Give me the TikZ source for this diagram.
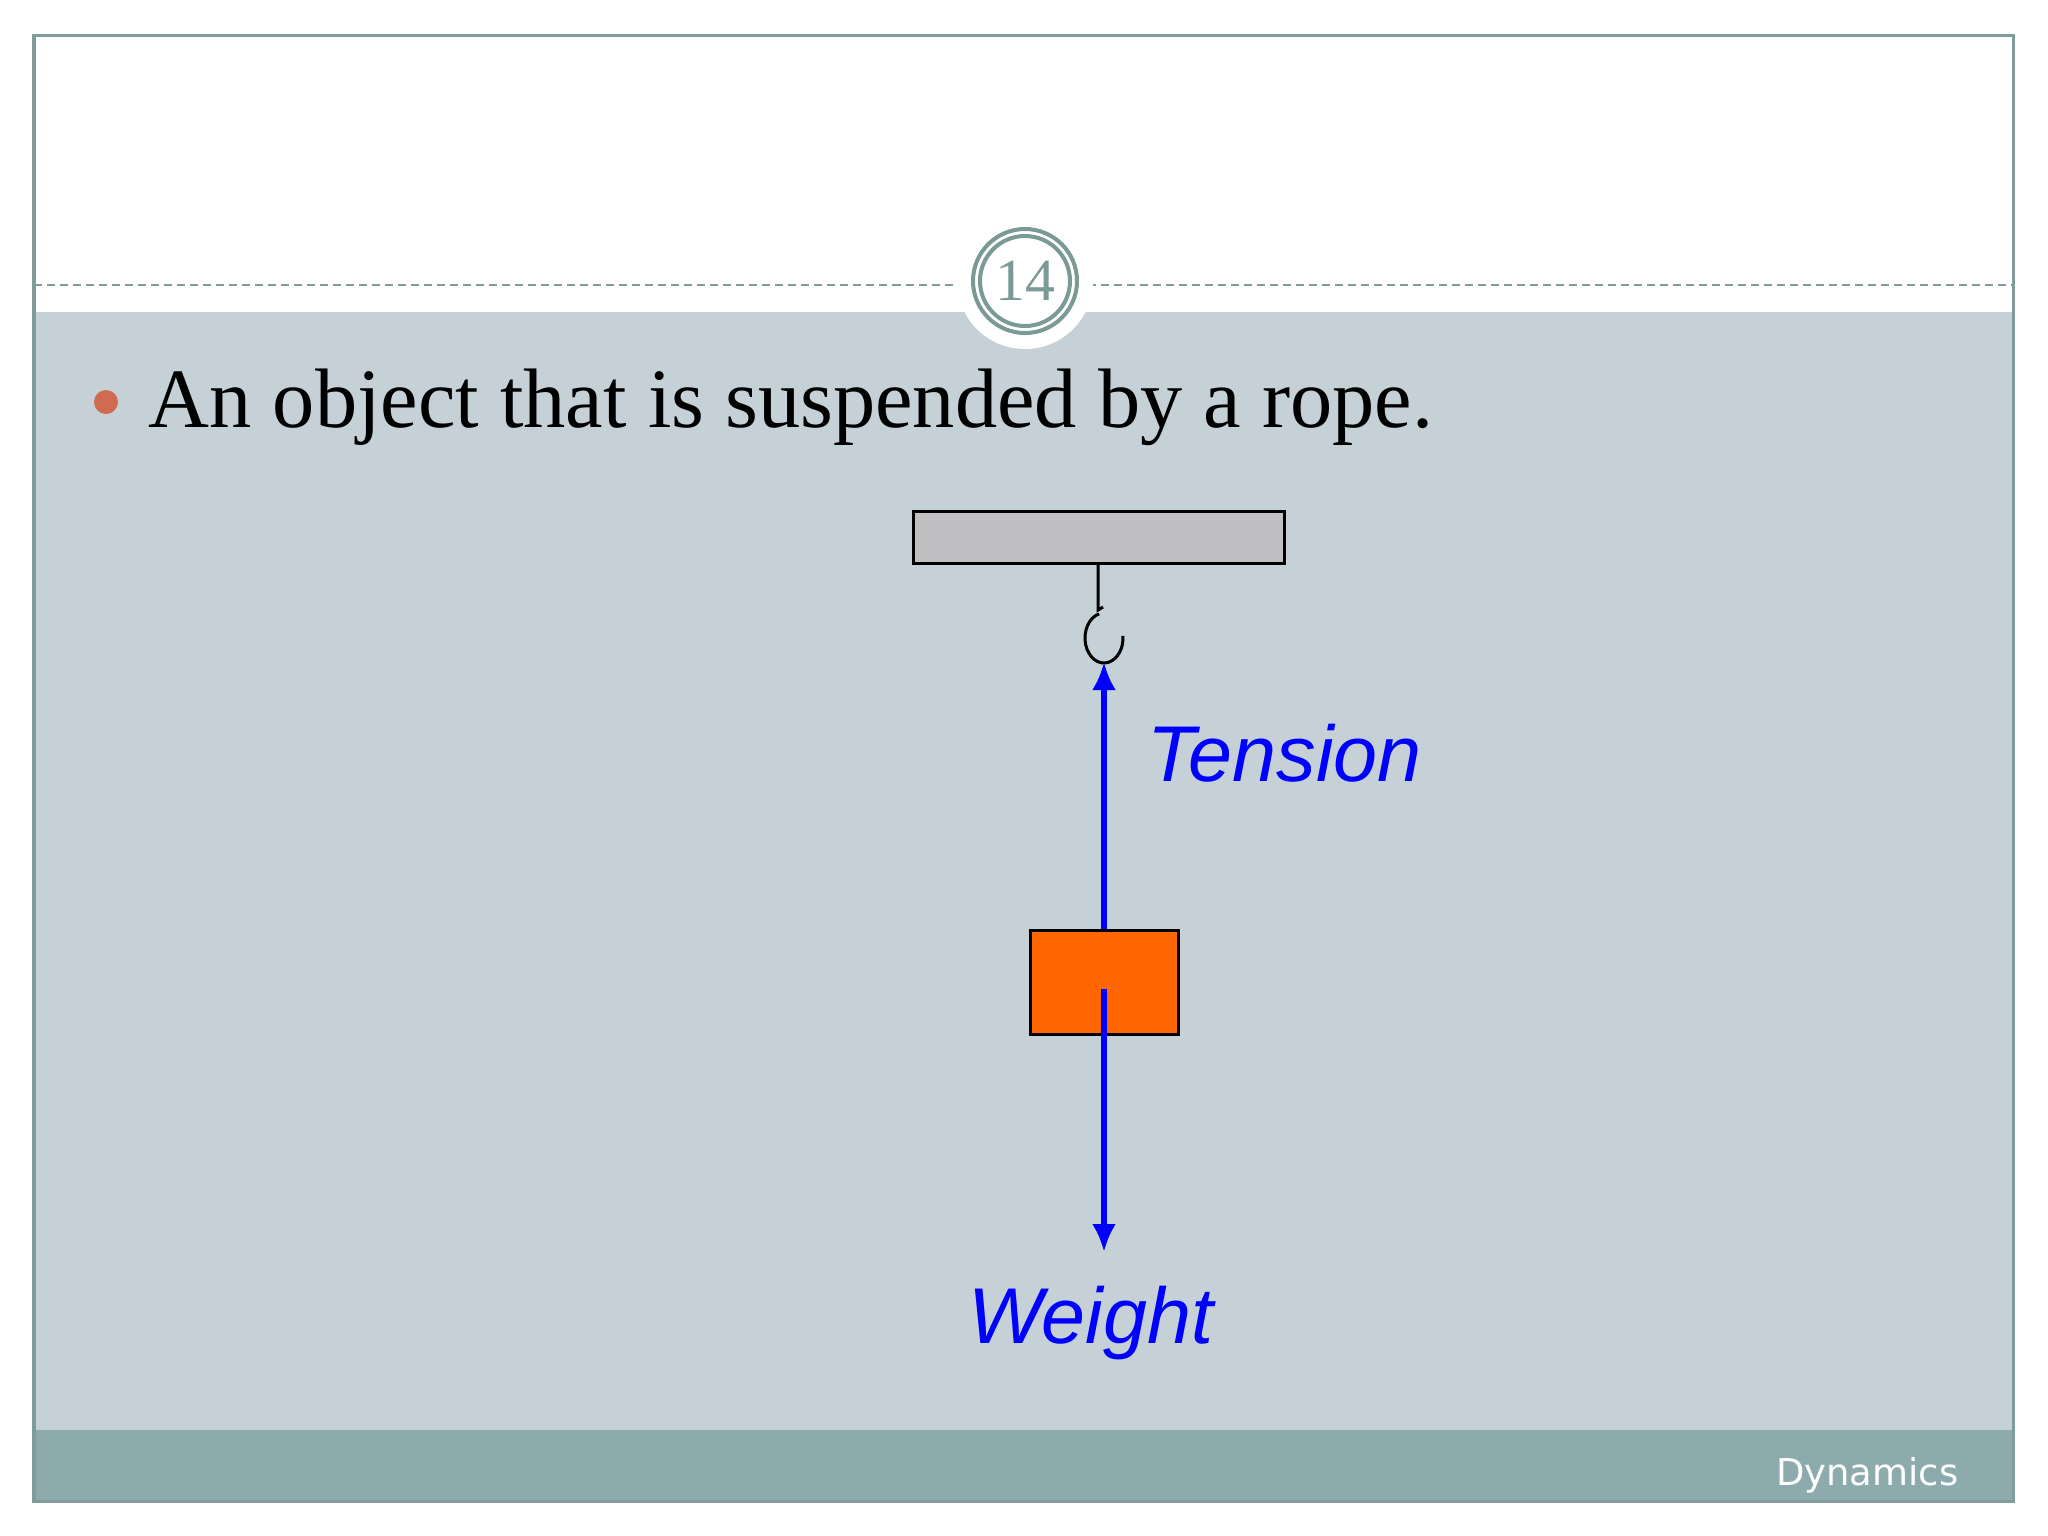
\documentclass[tikz,border=0pt]{standalone}
\usepackage{fontspec}
\setmainfont{Liberation Serif}
\newfontfamily\arialf{Liberation Sans}
\newfontfamily\dejaf{DejaVu Sans}
\definecolor{bgc}{HTML}{C5D1D7}
\definecolor{footc}{HTML}{8DABAD}
\definecolor{framec}{HTML}{7F9C9A}
\definecolor{numc}{HTML}{7A9A95}
\definecolor{bulc}{HTML}{D06A50}
\definecolor{barc}{HTML}{C0BFC2}
\definecolor{boxc}{HTML}{FF6600}
\usetikzlibrary{arrows.meta}
\begin{document}
\begin{tikzpicture}[x=0.01cm,y=-0.01cm,
  force/.style={blue,line width=0.55mm,-{Latex[length=2.8mm,width=2.4mm]}},
  lbl/.style={blue,font=\arialf\itshape\fontsize{22.5}{26}\selectfont,anchor=base west,inner sep=0}]
\useasboundingbox (0,0) rectangle (2048,1536);
\fill[white] (0,0) rectangle (2048,1536);
\fill[bgc] (34,312) rectangle (2013,1430);
\fill[footc] (34,1430) rectangle (2013,1501);
\draw[framec,line width=0.3mm] (34,35) rectangle (2013,1501);
\draw[framec,dash pattern=on 0.8mm off 0.5mm,line width=0.2mm] (34,285) -- (2013,285);
\fill[white] (1025,281) circle (68);
\draw[numc,line width=0.4mm] (1025,281) circle (52);
\draw[numc,line width=0.4mm] (1025,281) circle (45);
\node[numc,font=\fontsize{17}{19}\selectfont] (num) at (1025,281) {14};
\fill[bulc] (106,402) circle (12) coordinate (bul);
\node[anchor=base west,inner sep=0,font=\fontsize{24}{28}\selectfont] (title) at (148,427) {An object that is suspended by a rope.};
\node[draw=black,fill=barc,line width=0.3mm,anchor=north west,inner sep=0,minimum width=3.71cm,minimum height=0.52cm] (bar) at (912,510) {};
\coordinate (ropeend) at (1098,610);
\draw[line width=0.3mm] (bar.south -| ropeend) -- (ropeend) -- ++(5,-3);
\draw[line width=0.3mm,shift={(1104,638)},yscale=-1] (105:19 and 25) arc[start angle=105,end angle=365,x radius=19,y radius=25];
\node[draw=black,fill=boxc,line width=0.3mm,anchor=north west,inner sep=0,minimum width=1.48cm,minimum height=1.04cm] (box) at (1029,929) {};
\coordinate (tip) at (1104,662);
\coordinate (wend) at (1104,1252);
\coordinate (wstart) at (1104,989);
\draw[force] (box.north -| tip) -- (tip);
\draw[force] (wstart) -- (wend);
\node[lbl] (ten) at (1147,781) {Tension};
\node[lbl] (wt) at (968,1343) {Weight};
\node[white,anchor=base east,inner sep=0,font=\dejaf\fontsize{10.5}{12}\selectfont] (dyn) at (1959,1485) {Dynamics};
\end{tikzpicture}
\end{document}
